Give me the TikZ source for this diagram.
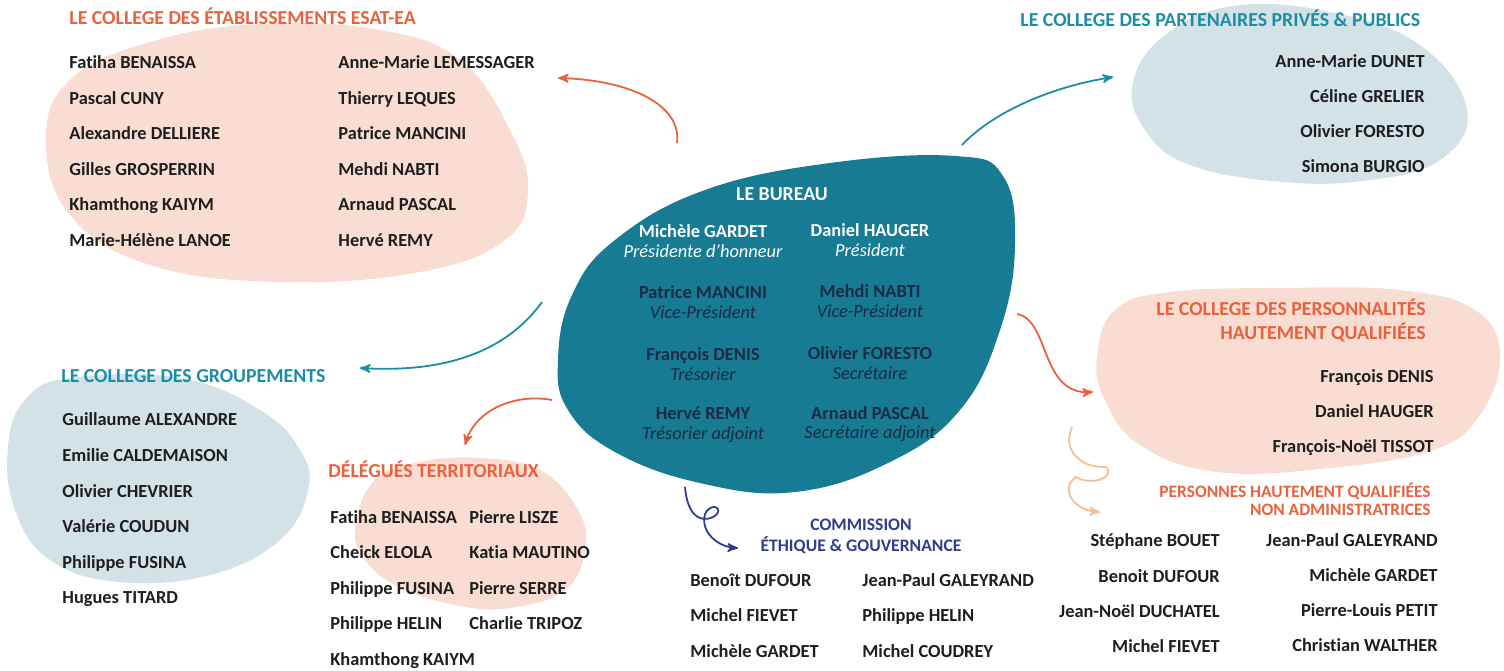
\documentclass[tikz,border=0pt]{standalone}
\usepackage{fontspec}
\setmainfont{Carlito}[Ligatures=NoCommon]
\usetikzlibrary{arrows}
\definecolor{corange}{HTML}{E9623D}
\definecolor{clight}{HTML}{F5BE94}
\definecolor{cpink}{HTML}{F9DDD3}
\definecolor{cgrey}{HTML}{D3E2E6}
\definecolor{cteal}{HTML}{167B93}
\definecolor{ctealt}{HTML}{1B8EA5}
\definecolor{cnavy}{HTML}{2E3D8E}
\definecolor{cname}{HTML}{1E1E1E}
\definecolor{cdark}{HTML}{1B2B48}
\tikzset{
	txt_n/.style = {
		inner sep=0pt,
		text=cname,
		font=\fontsize{9.2}{11}\selectfont\bfseries,
		text height=6pt,
		text depth=0pt
	},
	name_l/.style = {
		txt_n,
		anchor=west
	},
	name_r/.style = {
		txt_n,
		anchor=east
	},
	title_o/.style = {
		name_l,
		text=corange,
		font=\fontsize{9.9}{12}\selectfont\bfseries,
		text height=6.5pt
	},
	title_t/.style = {
		title_o,
		text=ctealt
	},
	title_or/.style = {
		inner sep=0pt,
		anchor=east,
		align=right,
		text=corange,
		font=\fontsize{9.9}{12}\selectfont\bfseries
	},
	title_s/.style = {
		title_or,
		font=\fontsize{8.7}{9}\selectfont\bfseries
	},
	title_n/.style = {
		inner sep=0pt,
		align=center,
		text=cnavy,
		font=\fontsize{8.8}{10.5}\selectfont\bfseries
	},
	bur_w/.style = {
		inner sep=0pt,
		align=center,
		text=white,
		font=\fontsize{9.2}{9.8}\selectfont\bfseries
	},
	bur_d/.style = {
		bur_w,
		text=cdark
	},
	blob_p/.style = {
		fill=cpink
	},
	blob_g/.style = {
		fill=cgrey
	},
	blob_b/.style = {
		fill=cteal
	},
	arr_o/.style = {
		->,
		draw=corange,
		line width=0.9pt
	},
	arr_t/.style = {
		arr_o,
		draw=ctealt
	},
	arr_n/.style = {
		arr_o,
		draw=cnavy
	},
	arr_l/.style = {
		arr_o,
		draw=clight
	},
}
\newcommand{\role}[1]{{\mdseries\itshape #1}}
\begin{document}
\begin{tikzpicture}[x=0.5pt, y=-0.5pt, >=stealth']
\useasboundingbox (0,0) rectangle (1504,670);

\fill[blob_p] plot[smooth cycle, tension=0.7] coordinates {(46,140) (70,80) (150,42) (260,24) (380,30) (460,60) (510,130) (528,190) (505,240) (420,272) (280,282) (150,265) (70,215)};
\fill[blob_g] plot[smooth cycle, tension=0.7] coordinates {(1133,83) (1165,35) (1233,6) (1330,12) (1420,45) (1467,110) (1440,160) (1370,180) (1283,182) (1190,165) (1145,130)};
\fill[blob_p] plot[smooth cycle, tension=0.7] coordinates {(1097,357) (1115,310) (1170,292) (1280,288) (1400,290) (1475,310) (1500,355) (1480,415) (1433,450) (1330,468) (1217,472) (1140,445) (1105,400)};
\fill[blob_g] plot[smooth cycle, tension=0.7] coordinates {(8,447) (25,400) (70,378) (180,378) (260,410) (300,450) (308,490) (280,540) (210,575) (119,582) (50,560) (15,510)};
\fill[blob_p] plot[smooth cycle, tension=0.7] coordinates {(356,523) (375,480) (420,462) (480,458) (540,470) (578,510) (585,550) (565,590) (510,608) (455,605) (395,585) (362,555)};
\fill[blob_b] plot[smooth cycle, tension=0.7] coordinates {(558,360) (572,295) (615,240) (705,190) (830,163) (955,156) (1003,176) (1015,245) (1000,330) (960,410) (890,462) (795,492) (700,483) (615,452) (568,410)};

\node [title_o] (esat) at (69,18) {LE COLLEGE DES ÉTABLISSEMENTS ESAT-EA};
\node [name_l] (esat_a1) at (69,62) {Fatiha BENAISSA};
\node [name_l] (esat_a2) at (69,98) {Pascal CUNY};
\node [name_l] (esat_a3) at (69,133) {Alexandre DELLIERE};
\node [name_l] (esat_a4) at (69,169) {Gilles GROSPERRIN};
\node [name_l] (esat_a5) at (69,204) {Khamthong KAIYM};
\node [name_l] (esat_a6) at (69,240) {Marie-Hélène LANOE};
\node [name_l] (esat_b1) at (338,62) {Anne-Marie LEMESSAGER};
\node [name_l] (esat_b2) at (338,98) {Thierry LEQUES};
\node [name_l] (esat_b3) at (338,133) {Patrice MANCINI};
\node [name_l] (esat_b4) at (338,169) {Mehdi NABTI};
\node [name_l] (esat_b5) at (338,204) {Arnaud PASCAL};
\node [name_l] (esat_b6) at (338,240) {Hervé REMY};

\node [title_t] (part) at (1020,20) {LE COLLEGE DES PARTENAIRES PRIVÉS \& PUBLICS};
\node [name_r] (part_1) at (1425,61) {Anne-Marie DUNET};
\node [name_r] (part_2) at (1425,96) {Céline GRELIER};
\node [name_r] (part_3) at (1425,131) {Olivier FORESTO};
\node [name_r] (part_4) at (1425,166) {Simona BURGIO};

\node [title_or] (pers) at (1426,320) {LE COLLEGE DES PERSONNALITÉS\\HAUTEMENT QUALIFIÉES};
\node [name_r] (pers_1) at (1434,376) {François DENIS};
\node [name_r] (pers_2) at (1434,411) {Daniel HAUGER};
\node [name_r] (pers_3) at (1434,446) {François-Noël TISSOT};

\node [title_s] (nonadm) at (1431,499) {PERSONNES HAUTEMENT QUALIFIÉES\\NON ADMINISTRATRICES};
\node [name_r] (nonadm_a1) at (1220,540) {Stéphane BOUET};
\node [name_r] (nonadm_a2) at (1220,576) {Benoit DUFOUR};
\node [name_r] (nonadm_a3) at (1220,611) {Jean-Noël DUCHATEL};
\node [name_r] (nonadm_a4) at (1220,646) {Michel FIEVET};
\node [name_r] (nonadm_b1) at (1438,540) {Jean-Paul GALEYRAND};
\node [name_r] (nonadm_b2) at (1438,575) {Michèle GARDET};
\node [name_r] (nonadm_b3) at (1438,610) {Pierre-Louis PETIT};
\node [name_r] (nonadm_b4) at (1438,645) {Christian WALTHER};

\node [title_t] (grp) at (61,376) {LE COLLEGE DES GROUPEMENTS};
\node [name_l] (grp_1) at (62,419) {Guillaume ALEXANDRE};
\node [name_l] (grp_2) at (62,455) {Emilie CALDEMAISON};
\node [name_l] (grp_3) at (62,491) {Olivier CHEVRIER};
\node [name_l] (grp_4) at (62,526) {Valérie COUDUN};
\node [name_l] (grp_5) at (62,562) {Philippe FUSINA};
\node [name_l] (grp_6) at (62,597) {Hugues TITARD};

\node [title_o] (del) at (328,471) {DÉLÉGUÉS TERRITORIAUX};
\node [name_l] (del_a1) at (330,517) {Fatiha BENAISSA};
\node [name_l] (del_a2) at (330,552) {Cheick ELOLA};
\node [name_l] (del_a3) at (330,588) {Philippe FUSINA};
\node [name_l] (del_a4) at (330,623) {Philippe HELIN};
\node [name_l] (del_a5) at (330,659) {Khamthong KAIYM};
\node [name_l] (del_b1) at (469,517) {Pierre LISZE};
\node [name_l] (del_b2) at (469,552) {Katia MAUTINO};
\node [name_l] (del_b3) at (469,588) {Pierre SERRE};
\node [name_l] (del_b4) at (469,623) {Charlie TRIPOZ};

\node [title_n] (com) at (861,536) {COMMISSION\\ÉTHIQUE \& GOUVERNANCE};
\node [name_l] (com_a1) at (690,580) {Benoît DUFOUR};
\node [name_l] (com_a2) at (690,615) {Michel FIEVET};
\node [name_l] (com_a3) at (690,651) {Michèle GARDET};
\node [name_l] (com_b1) at (862,580) {Jean-Paul GALEYRAND};
\node [name_l] (com_b2) at (862,615) {Philippe HELIN};
\node [name_l] (com_b3) at (862,651) {Michel COUDREY};

\node [bur_w, font=\fontsize{9.9}{12}\selectfont\bfseries] (bur) at (782,194) {LE BUREAU};
\node [bur_w] (bur_a1) at (703,241) {Michèle GARDET\\\role{Présidente d’honneur}};
\node [bur_w] (bur_b1) at (870,240) {Daniel HAUGER\\\role{Président}};
\node [bur_d] (bur_a2) at (703,302) {Patrice MANCINI\\\role{Vice-Président}};
\node [bur_d] (bur_b2) at (870,301) {Mehdi NABTI\\\role{Vice-Président}};
\node [bur_d] (bur_a3) at (703,364) {François DENIS\\\role{Trésorier}};
\node [bur_d] (bur_b3) at (870,363) {Olivier FORESTO\\\role{Secrétaire}};
\node [bur_d] (bur_a4) at (703,425) {Hervé REMY\\\role{Trésorier adjoint}};
\node [bur_d] (bur_b4) at (870,424) {Arnaud PASCAL\\\role{Secrétaire adjoint}};

\coordinate (a_esat_s) at (677,143);
\coordinate (a_esat_e) at (558,78);
\coordinate (a_part_s) at (962,145);
\coordinate (a_part_e) at (1113,77);
\coordinate (a_grp_s) at (542,302);
\coordinate (a_grp_e) at (360,368);
\coordinate (a_del_s) at (552,400);
\coordinate (a_del_e) at (465,445);
\coordinate (a_pers_s) at (1017,314);
\coordinate (a_pers_e) at (1093,392);
\coordinate (a_non_s) at (1072,427);
\coordinate (a_non_e) at (1100,512);
\coordinate (a_com_s) at (685,487);
\coordinate (a_com_e) at (738,548);

\draw [arr_o] (a_esat_s) .. controls (682,105) and (630,80) .. (a_esat_e);
\draw [arr_t] (a_part_s) .. controls (990,115) and (1045,88) .. (a_part_e);
\draw [arr_t] (a_grp_s) .. controls (500,360) and (430,372) .. (a_grp_e);
\draw [arr_o] (a_del_s) .. controls (515,393) and (475,410) .. (a_del_e);
\draw [arr_o] (a_pers_s) .. controls (1050,320) and (1040,395) .. (a_pers_e);
\draw [arr_l] (a_non_s) .. controls (1062,450) and (1080,468) .. (1106,467) .. controls (1116,478) and (1090,486) .. (1076,477) .. controls (1060,488) and (1072,510) .. (a_non_e);
\draw [arr_n] (a_com_s) .. controls (687,512) and (698,524) .. (713,517) .. controls (726,510) and (712,500) .. (705,514) .. controls (700,532) and (718,547) .. (a_com_e);
\end{tikzpicture}
\end{document}
